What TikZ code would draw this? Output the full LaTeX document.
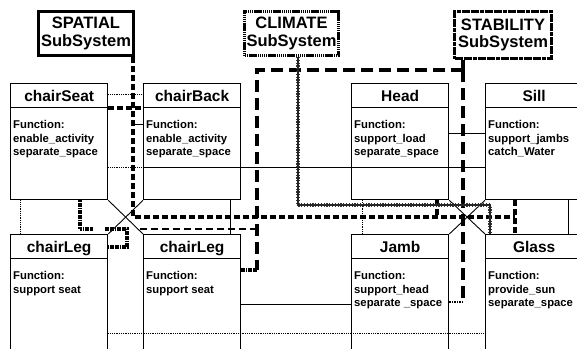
\documentclass[tikz,border=0pt]{standalone}
\usepackage{fontspec}
\setmainfont{Liberation Sans}

% one class box: frame, title rule, title and body text
% #1 name, #2 left, #3 top, #4 height, #5 title, #6 body
\newcommand\umlclass[6]{%
  \node[classframe, minimum height=#4pt] (#1) at (#2,#3) {};
  \draw[line width=1.3pt] ([yshift=-24.5pt]#1.north west) -- ([yshift=-24.5pt]#1.north east);
  \node[classtitle] (#1-title) at ([yshift=-18pt]#1.north) {#5};
  \node[classbody] (#1-body) at ([shift={(3pt,-37.5pt)}]#1.north west) {#6};
}

\begin{document}
\begin{tikzpicture}[x=1pt,y=-1pt,
  classframe/.style={draw, line width=1.3pt, minimum width=97pt, inner sep=0pt, anchor=north west},
  classtitle/.style={font=\bfseries\fontsize{15.5}{18}\selectfont, inner sep=0pt, anchor=base},
  classbody/.style={font=\bfseries\fontsize{11.3}{13.4}\selectfont, align=left, inner sep=0pt, anchor=north west},
  subsys/.style={font=\bfseries\fontsize{16.5}{17.5}\selectfont, align=center, inner sep=0pt},
  thinlink/.style={line width=0.9pt},
  dotlink/.style={line width=1pt, dash pattern=on 1pt off 0.8pt},
  spatialline/.style={line width=3.4pt, dash pattern=on 6pt off 3pt},
  stabline/.style={line width=3.2pt, dash pattern=on 12pt off 6pt},
  stabdash/.style={line width=2.4pt, dash pattern=on 7pt off 4pt},
  grainline/.style={line width=3.2pt, dash pattern=on 1.8pt off 0.6pt},
  chainline/.style={line width=1.1pt, black!85,
    preaction={draw, black!80, line width=3.2pt, dash pattern=on 1.2pt off 1.6pt}},
]
\clip (0,0) rectangle (577,348);

% subsystem boxes
\node[subsys, draw, line width=3.4pt, minimum width=94.5pt, minimum height=43.5pt]
  (spatial) at (86,33.5) {SPATIAL\\SubSystem};
\node[subsys, draw, line width=3.4pt, dash pattern=on 1.3pt off 0.6pt, minimum width=93.5pt, minimum height=43.5pt]
  (climate) at (291.5,33.5) {CLIMATE\\SubSystem};
\node[subsys, draw, line width=3pt, dash pattern=on 4pt off 0.6pt, minimum width=97pt, minimum height=47pt]
  (stability) at (503,35) {STABILITY\\SubSystem};

% building element classes
\umlclass{seat}{10}{83}{116}{chairSeat}{Function:\\enable\_activity\\separate\_space}
\umlclass{back}{143}{83}{116}{chairBack}{Function:\\enable\_activity\\separate\_space}
\umlclass{head}{351}{83}{116}{Head}{Function:\\support\_load\\separate\_space}
\umlclass{sill}{485}{83}{116}{Sill}{Function:\\support\_jambs\\catch\_Water}
\umlclass{lega}{10}{234}{130}{chairLeg}{Function:\\support seat}
\umlclass{legb}{143}{234}{130}{chairLeg}{Function:\\support seat}
\umlclass{jamb}{351}{234}{130}{Jamb}{Function:\\support\_head\\separate \_space}
\umlclass{glass}{485}{234}{130}{Glass}{Function:\\provide\_sun\\separate\_space}

% plain associations
\draw[dotlink] (seat.east |- 0,94) -- (back.west |- 0,94);
\draw[dotlink] (seat.east |- 0,167) -- (back.west |- 0,167);
\draw[thinlink] (back.west |- 0,167) -- (sill.west |- 0,167);
\draw[thinlink] (head.east |- 0,133) -- (sill.west |- 0,133);
\draw[thinlink] (133,124) -- (back.west |- 0,124);
\draw[thinlink] (legb.east |- 0,304) -- (jamb.west |- 0,304);
\draw[dotlink] (lega.east |- 0,333) -- (glass.west |- 0,333);

% part-of links between upper and lower elements
\draw[dotlink] (seat.south -| 20,0) -- (lega.north -| 20,0);
\draw[thinlink] (back.south -| 230,0) -- (legb.north -| 230,0);
\draw[dotlink] (head.south -| 362,0) -- (jamb.north -| 362,0);
\draw[thinlink] (sill.south -| 568,0) -- (glass.north -| 568,0);

% crossing diagonals
\draw[thinlink] (seat.south east) -- (legb.north west);
\draw[thinlink] (back.south west) -- (lega.north east);
\draw[thinlink] (head.south east) -- (glass.north west);
\draw[thinlink] (sill.south west) -- (jamb.north east);

% spatial subsystem
\coordinate (sp-turn) at (133,217);
\coordinate (sp-end) at (515,217);
\draw[spatialline] (spatial.south -| sp-turn) -- (sp-turn) -- (sp-end);
\draw[spatialline] (seat.north east |- 0,108) -- (back.north west |- 0,108);
\draw[spatialline] (head.south -| 437,0) -- (437,217);
\draw[spatialline] (sill.south -| sp-end) -- (glass.north -| sp-end);

% stability subsystem
\coordinate (st-knee) at (463,70);
\coordinate (st-left) at (257,70);
\coordinate (st-foot) at (257,270);
\coordinate (st-low) at (463,302);
\draw[line width=3.2pt] (stability.south -| st-knee) -- (st-knee);
\draw[stabline] (st-knee) -- (st-left) -- (st-foot);
\draw[grainline] (st-foot) -- (legb.east |- st-foot);
\draw[stabline] (st-knee) -- (st-low);
\draw[line width=1.8pt, dash pattern=on 1.5pt off 1pt] (st-low) -- (jamb.east |- st-low);
\draw[stabdash] (st-left |- 0,229) -- (140,229);
\draw[grainline] (seat.south -| 80,0) -- (80,229) -- (93,229);
\draw[grainline] (105,229) -- (127,229) -- (127,247) -- (lega.east |- 0,247);

% climate subsystem
\coordinate (cl-turn) at (298,205);
\coordinate (cl-end) at (490,205);
\draw[chainline] (climate.south -| cl-turn) -- (cl-turn) -- (cl-end) -- (glass.north -| cl-end);
\end{tikzpicture}
\end{document}
